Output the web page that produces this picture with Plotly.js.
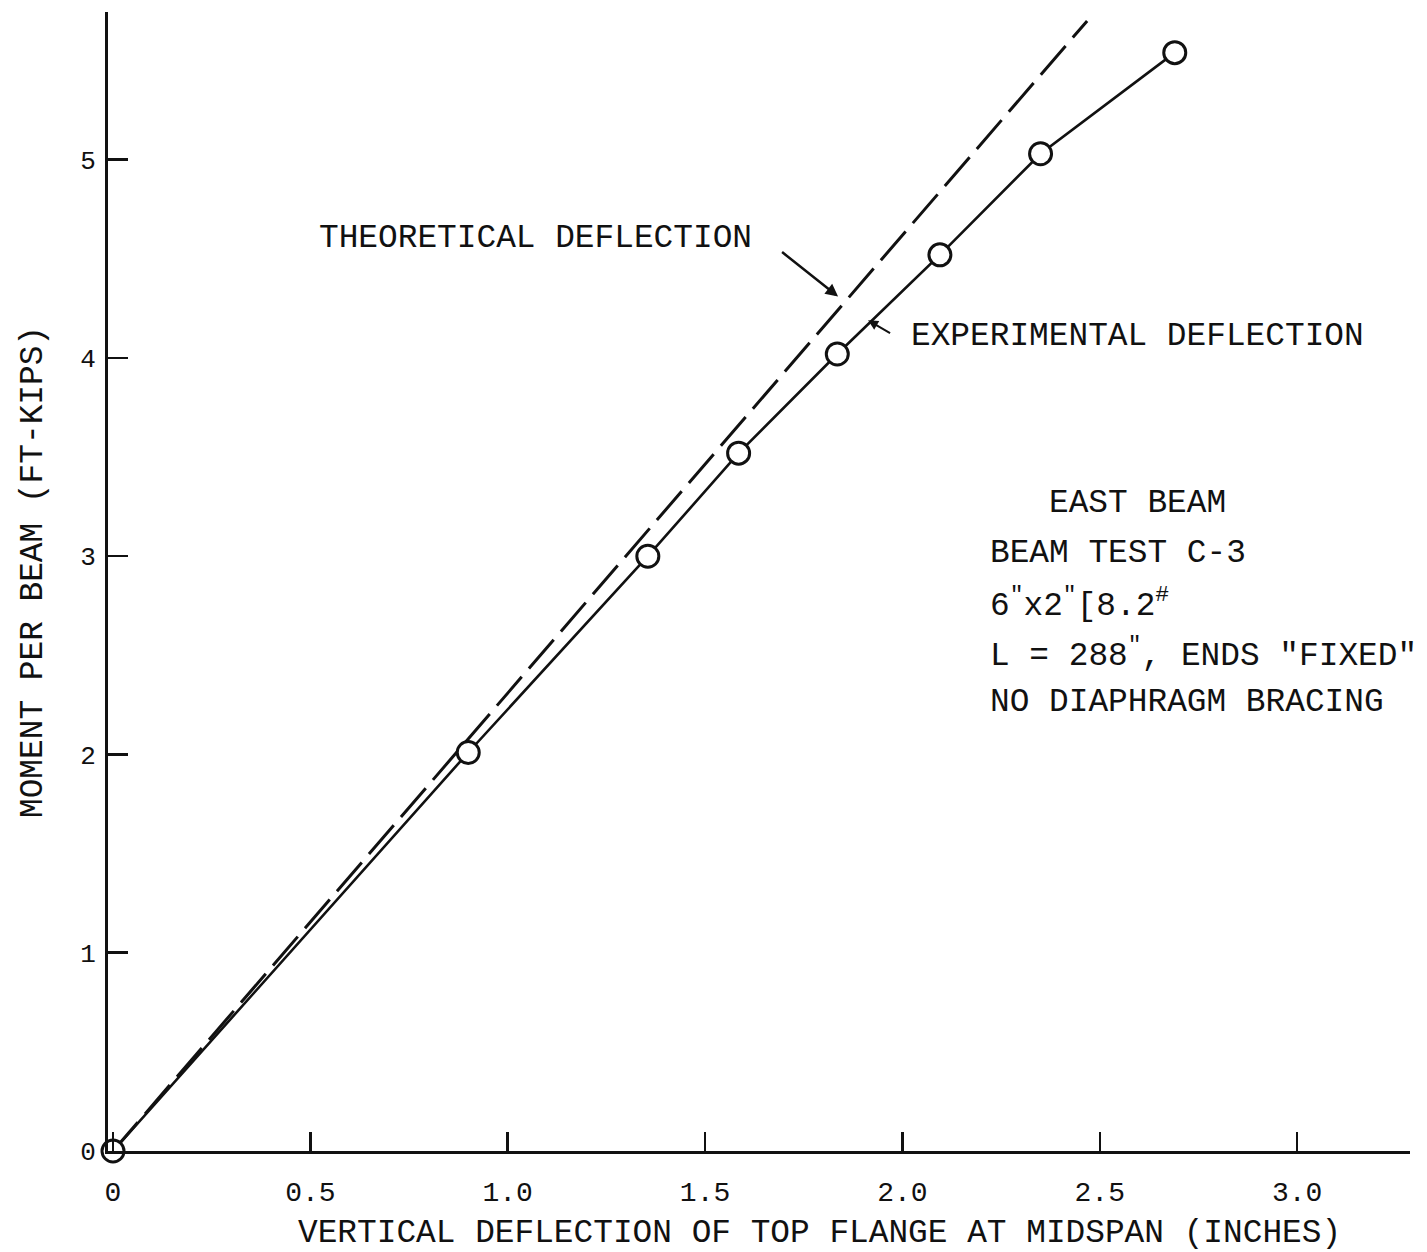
<!DOCTYPE html>
<html>
<head>
<meta charset="utf-8">
<script src="https://cdn.plot.ly/plotly-3.0.1.min.js"></script>
<style>html,body{margin:0;padding:0;background:#fff;}#chart{width:1427px;height:1252px;}</style>
</head>
<body>
<div id="chart"></div>
<script>
// Experimental data (deflection in inches, moment in ft-kips)
const expDeflection = [0, 0.90, 1.355, 1.585, 1.835, 2.095, 2.35, 2.69];
const expMoment     = [0, 2.01, 3.00, 3.52, 4.02, 4.52, 5.03, 5.54];
// Theoretical straight line
const theoDeflection = [0, 2.468];
const theoMoment     = [0, 5.70];
// Ticks
const xTickVals = [0, 0.5, 1.0, 1.5, 2.0, 2.5, 3.0];
const xTickText = ["0", "0.5", "1.0", "1.5", "2.0", "2.5", "3.0"];
const yTickVals = [0, 1, 2, 3, 4, 5];
const yTickText = ["0", "1", "2", "3", "4", "5"];
// Info block lines
const infoLines = [
  'BEAM TEST C-3',
  '6<sup>"</sup>x2<sup>"</sup>[8.2<sup>#</sup>',
  'L = 288<sup>"</sup>, ENDS "FIXED"',
  'NO DIAPHRAGM BRACING'
];

const FONT = 'Liberation Mono, Courier New, monospace';
const big = {family: FONT, size: 32.8, color: '#111'};

const traces = [
  {
    x: theoDeflection, y: theoMoment, mode: 'lines', type: 'scatter',
    line: {color: '#111', width: 3, dash: '38px,11px'},
    hoverinfo: 'skip', cliponaxis: false
  },
  {
    x: expDeflection, y: expMoment, mode: 'lines+markers', type: 'scatter',
    line: {color: '#111', width: 2.6},
    marker: {symbol: 'circle', size: 22, color: '#fff', line: {color: '#111', width: 3}},
    cliponaxis: false
  }
];

const W = 1427, H = 1252, L = 108, R = 17, T = 12, B = 101;
const pw = W - L - R, ph = H - T - B;
function px2paperX(p) { return (p - L) / pw; }
function px2paperY(p) { return (H - B - p) / ph; }

const annotations = [
  // axis titles
  {xref: 'paper', yref: 'paper', x: px2paperX(819), y: px2paperY(1234), text: 'VERTICAL DEFLECTION OF TOP FLANGE AT MIDSPAN (INCHES)',
   showarrow: false, xanchor: 'center', yanchor: 'middle', font: big},
  {xref: 'paper', yref: 'paper', x: px2paperX(33), y: px2paperY(572), text: 'MOMENT PER BEAM (FT-KIPS)', textangle: -90,
   showarrow: false, xanchor: 'center', yanchor: 'middle', font: big},
  // theoretical label + arrow
  {xref: 'paper', yref: 'paper', x: px2paperX(317), y: px2paperY(238), text: 'THEORETICAL DEFLECTION',
   showarrow: false, xanchor: 'left', yanchor: 'middle', font: big},
  {x: 1.837, y: 4.31, xref: 'x', yref: 'y', text: ' ', showarrow: true, arrowhead: 2, arrowsize: 1, arrowwidth: 2.5,
   arrowcolor: '#111', ax: -58, ay: -46, font: {size: 2}},
  // experimental label + arrow
  {xref: 'paper', yref: 'paper', x: px2paperX(909), y: px2paperY(336), text: 'EXPERIMENTAL DEFLECTION',
   showarrow: false, xanchor: 'left', yanchor: 'middle', font: big},
  {x: 1.913, y: 4.19, xref: 'x', yref: 'y', text: ' ', showarrow: true, arrowhead: 2, arrowsize: 1, arrowwidth: 2,
   arrowcolor: '#111', ax: 24, ay: 14, font: {size: 2}},
  // info block
  {xref: 'paper', yref: 'paper', x: px2paperX(1137), y: px2paperY(503), text: 'EAST BEAM',
   showarrow: false, xanchor: 'center', yanchor: 'middle', font: big}
];
const infoY = [553, 603, 653, 703];
infoLines.forEach((t, i) => {
  annotations.push({xref: 'paper', yref: 'paper', x: px2paperX(988), y: px2paperY(infoY[i]), text: t,
    showarrow: false, xanchor: 'left', yanchor: 'middle', font: big});
});

const layout = {
  width: W, height: H,
  margin: {l: L, r: R, t: T, b: B, pad: 0},
  paper_bgcolor: '#fff', plot_bgcolor: '#fff',
  showlegend: false,
  font: {family: FONT, color: '#111'},
  xaxis: {
    range: [-0.0127, 3.286], showgrid: false, zeroline: false,
    showline: true, linecolor: '#111', linewidth: 3,
    ticks: 'inside', ticklen: 19, tickwidth: 2.5, tickcolor: '#111',
    tickvals: xTickVals, ticktext: xTickText,
    tickfont: {family: FONT, size: 28, color: '#111'},
    ticklabelstandoff: 13
  },
  yaxis: {
    range: [0, 5.745], showgrid: false, zeroline: false,
    showline: true, linecolor: '#111', linewidth: 3,
    ticks: 'inside', ticklen: 20, tickwidth: 2.5, tickcolor: '#111',
    tickvals: yTickVals, ticktext: yTickText,
    tickfont: {family: FONT, size: 26, color: '#111'},
    ticklabelstandoff: 4
  },
  annotations: annotations
};

Plotly.newPlot('chart', traces, layout, {displayModeBar: false, staticPlot: true});
</script>
</body>
</html>
